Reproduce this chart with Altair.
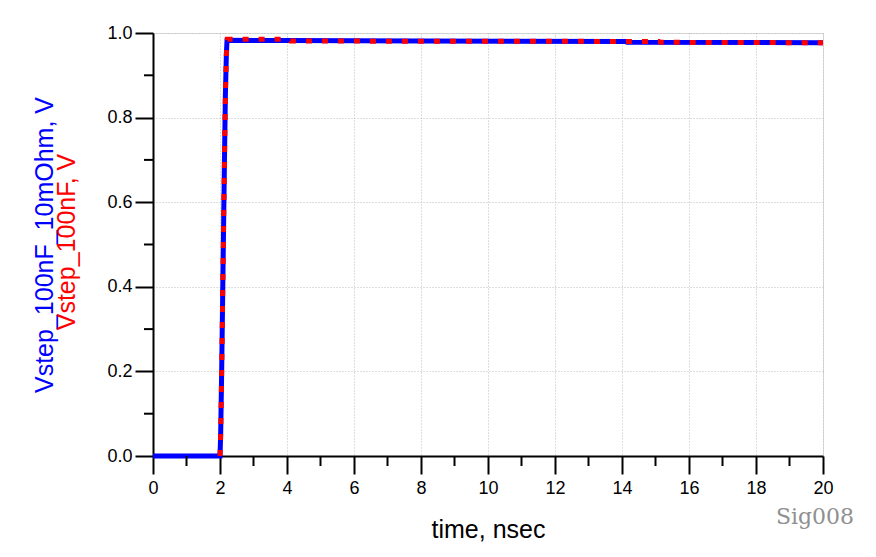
import altair as alt
import pandas as pd

# Series: Vstep_100nF_10mOhm (blue) and Vstep_100nF (red)
t_blue = [0.0, 2.0, 2.02, 2.05, 2.08, 2.1, 2.13, 2.16, 2.19, 2.21, 4.0, 8.0, 14.1, 14.15, 20.0]
v_blue = [0.0, 0.0, 0.05, 0.20, 0.38, 0.50, 0.68, 0.85, 0.95, 0.983, 0.982, 0.981, 0.980, 0.978, 0.977]

t_red = [2.0, 2.02, 2.05, 2.08, 2.1, 2.13, 2.16, 2.19, 2.22, 4.05, 4.1, 15.1, 15.15, 20.0]
v_red = [0.0, 0.05, 0.20, 0.38, 0.50, 0.68, 0.85, 0.95, 0.985, 0.985, 0.981, 0.980, 0.978, 0.977]

x_major = [0, 2, 4, 6, 8, 10, 12, 14, 16, 18, 20]
x_minor = [1, 3, 5, 7, 9, 11, 13, 15, 17, 19]
y_major = [0.0, 0.2, 0.4, 0.6, 0.8, 1.0]
y_minor = [0.1, 0.3, 0.5, 0.7, 0.9]

title_blue = "Vstep_100nF_10mOhm, V"
title_red = "Vstep_100nF, V"
x_title = "time, nsec"
watermark = "Sig008"

FONT = "Liberation Sans"

blue_df = pd.DataFrame({"t": t_blue, "v": v_blue, "i": range(len(t_blue))})
red_df = pd.DataFrame({"t": t_red, "v": v_red, "i": range(len(t_red))})

x_scale = alt.Scale(domain=[0, 20], nice=False, zero=False)
y_scale = alt.Scale(domain=[0, 1], nice=False, zero=False)

x_axis = alt.Axis(values=x_major, tickSize=18, tickWidth=2, tickColor="black",
                  domainWidth=2, domainColor="black", grid=True, gridDash=[1, 2],
                  gridColor="#bdbdbd", gridWidth=1, labelFontSize=18, labelFont=FONT,
                  labelColor="black", labelPadding=5, title=x_title, titleFont=FONT,
                  titleFontSize=25, titleFontWeight="normal", titleColor="black",
                  titlePadding=20, labelFlush=False)
y_axis = alt.Axis(values=y_major, format=".1f", tickSize=18, tickWidth=2, tickColor="black",
                  domainWidth=2, domainColor="black", grid=True, gridDash=[1, 2],
                  gridColor="#bdbdbd", gridWidth=1, labelFontSize=18, labelFont=FONT,
                  labelColor="black", labelPadding=3, title=None, labelFlush=False)

blue = alt.Chart(blue_df).mark_line(color="#0000ff", strokeWidth=5).encode(
    x=alt.X("t:Q", scale=x_scale, axis=x_axis),
    y=alt.Y("v:Q", scale=y_scale, axis=y_axis),
    order="i:Q",
)
red = alt.Chart(red_df).mark_line(color="#ff0000", strokeWidth=5, strokeDash=[6, 10]).encode(
    x=alt.X("t:Q", scale=x_scale),
    y=alt.Y("v:Q", scale=y_scale),
    order="i:Q",
)

xminor = alt.Chart(pd.DataFrame({"t": x_minor})).mark_rule(color="black", strokeWidth=2).encode(
    x=alt.X("t:Q", scale=x_scale), y=alt.value(423), y2=alt.value(433)
)
yminor = alt.Chart(pd.DataFrame({"v": y_minor})).mark_rule(color="black", strokeWidth=2).encode(
    y=alt.Y("v:Q", scale=y_scale), x=alt.value(-9), x2=alt.value(0)
)

tb = alt.Chart(pd.DataFrame({"s": [title_blue]})).mark_text(
    angle=270, fontSize=25, font=FONT, color="#0000ff", align="center", baseline="middle"
).encode(text="s:N", x=alt.value(-108), y=alt.value(212))
tr = alt.Chart(pd.DataFrame({"s": [title_red]})).mark_text(
    angle=270, fontSize=25, font=FONT, color="#ff0000", align="center", baseline="middle"
).encode(text="s:N", x=alt.value(-86), y=alt.value(209))

wm = alt.Chart(pd.DataFrame({"s": [watermark]})).mark_text(
    fontSize=22, font="DejaVu Serif", color="#909090", align="center", baseline="middle"
).encode(text="s:N", x=alt.value(662), y=alt.value(484))

chart = alt.layer(blue, red, xminor, yminor, tb, tr, wm).properties(
    width=670, height=423,
    autosize=alt.AutoSizeParams(type="none"),
    padding={"left": 145, "top": 25, "right": 45, "bottom": 90},
).configure_view(stroke="black", strokeWidth=2).configure(background="white")

chart.save("out.html", embed_options={"renderer": "svg", "actions": False})
